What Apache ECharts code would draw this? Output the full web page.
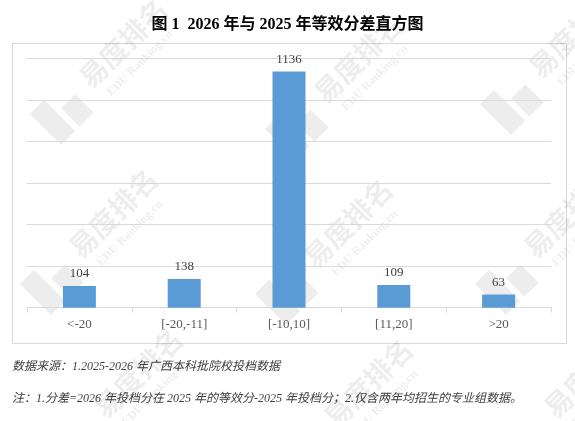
<!DOCTYPE html>
<html>
<head>
<meta charset="utf-8">
<script src="https://cdn.jsdelivr.net/npm/echarts@6/dist/echarts.min.js"></script>
<style>html,body{margin:0;padding:0;background:#fff}#c{width:575px;height:421px}</style>
</head>
<body>
<div id="c"></div>
<script>
var categories = ['<-20', '[-20,-11]', '[-10,10]', '[11,20]', '>20'];
var counts = [104, 138, 1136, 109, 63];
var titleText = '图 1  2026 年与 2025 年等效分差直方图';
var note1 = '数据来源：1.2025-2026 年广西本科批院校投档数据';
var note2 = '注：1.分差=2026 年投档分在 2025 年的等效分-2025 年投档分；2.仅含两年均招生的专业组数据。';

var serif = '"Liberation Serif", "Times New Roman", "Noto Sans CJK SC", serif';

function watermark(x, y) {
  return {
    type: 'group', x: x, y: y, rotation: Math.PI / 4, silent: true, z: 100,
    children: [
      { type: 'polygon', shape: { points: [[-70, -22], [-50, -22], [-50, 22], [-70, 22]] },
        style: { fill: 'rgba(0,0,0,0.07)' } },
      { type: 'polygon', shape: { points: [[-44, -4], [-24, -4], [-24, 22], [-44, 22]] },
        style: { fill: 'rgba(0,0,0,0.07)' } },
      { type: 'text', x: -10, y: -20,
        style: { text: '易度排名', font: 'bold 28px "Noto Sans CJK SC"', fill: 'rgba(0,0,0,0.07)' } },
      { type: 'text', x: 0, y: 14,
        style: { text: 'EDU Ranking.cn', font: 'bold 12px "Liberation Serif"', fill: 'rgba(0,0,0,0.07)' } }
    ]
  };
}
var wm = [];
[[95, 80], [330, 95], [545, 70], [85, 250], [320, 260], [540, 250], [110, 410], [340, 420], [560, 410]].forEach(function (p) {
  wm.push(watermark(p[0], p[1]));
});

var chart = echarts.init(document.getElementById('c'));
chart.setOption({
  animation: false,
  backgroundColor: '#fff',
  title: {
    text: titleText, left: 'center', top: 12,
    textStyle: { fontFamily: serif, fontSize: 16, fontWeight: 'bold', color: '#000' }
  },
  grid: { left: 27, right: 24, top: 58.3, bottom: 113.3 },
  xAxis: {
    type: 'category', data: categories,
    axisLine: { lineStyle: { color: '#d9d9d9' } },
    axisTick: { show: true, length: 5, lineStyle: { color: '#d9d9d9' } },
    axisLabel: { color: '#595959', fontFamily: serif, fontSize: 13, margin: 10 }
  },
  yAxis: {
    type: 'value', min: 0, max: 1200, interval: 200,
    axisLabel: { show: false }, axisLine: { show: false }, axisTick: { show: false },
    splitLine: { lineStyle: { color: '#d9d9d9' } }
  },
  series: [{
    type: 'bar', data: counts, barWidth: 33,
    itemStyle: { color: '#5b9bd5' },
    label: { show: true, position: 'top', distance: 6, color: '#404040', fontFamily: serif, fontSize: 13 }
  }],
  graphic: [
    { type: 'rect', shape: { x: 12.5, y: 43.5, width: 554, height: 300 },
      style: { fill: 'none', stroke: '#d9d9d9', lineWidth: 1 }, silent: true },
    { type: 'text', left: 12, top: 361,
      style: { text: note1, font: 'italic 12px ' + serif, fill: '#404040' } },
    { type: 'text', left: 12, top: 393,
      style: { text: note2, font: 'italic 12px ' + serif, fill: '#404040' } }
  ].concat(wm)
});
</script>
</body>
</html>
